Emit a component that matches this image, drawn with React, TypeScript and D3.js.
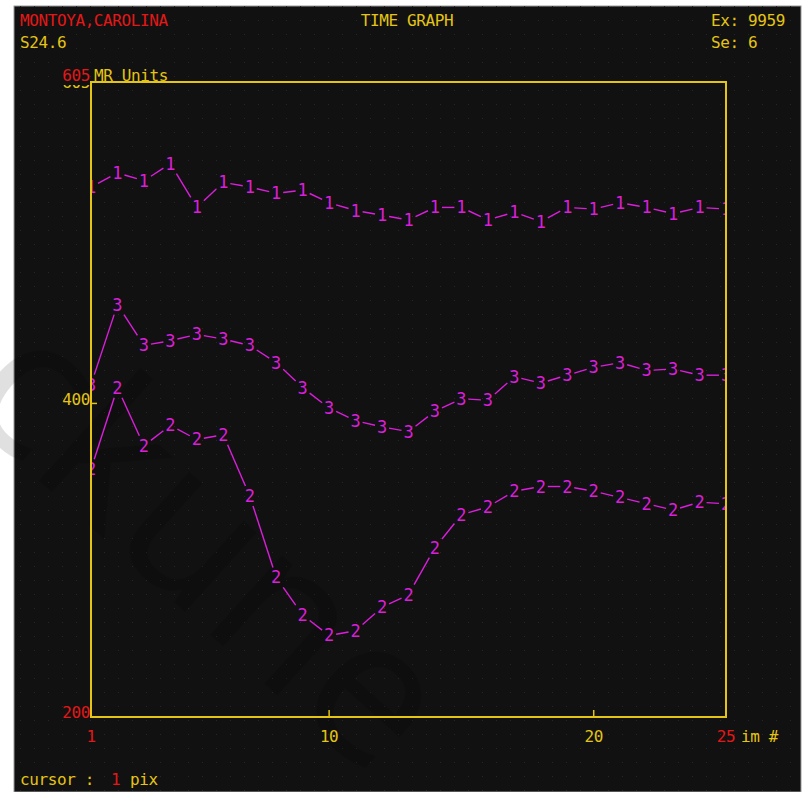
import * as d3 from 'd3';

const imageNumbers = [1, 2, 3, 4, 5, 6, 7, 8, 9, 10, 11, 12, 13, 14, 15, 16, 17, 18, 19, 20, 21, 22, 23, 24, 25];
const series1 = [538, 547, 542, 553, 525, 541, 538, 534, 536, 528, 523, 520, 517, 525, 525, 517, 522, 516, 525, 524, 528, 525, 521, 525, 524];
const series2 = [358, 410, 373, 386, 377, 380, 341, 289, 265, 252, 255, 270, 278, 308, 329, 334, 344, 347, 347, 344, 340, 336, 332, 337, 336];
const series3 = [412, 463, 437, 440, 444, 441, 437, 426, 410, 397, 389, 385, 382, 395, 403, 402, 417, 413, 418, 423, 426, 421, 422, 418, 418];
const seriesNames = ['1', '2', '3'];
const xTicks = [1, 10, 20, 25];
const yTicks = [200, 400, 605];

const W = 805;
const H = 792;
const BG = '#111111';
const YEL = '#e4c414';
const RED = '#e41818';
const MAG = '#dc1edc';
const FONT = '"DejaVu Sans Mono", "Liberation Mono", monospace';

const plot = { left: 91, right: 726, top: 82, bottom: 717 };

const x = d3.scaleLinear().domain([1, 25]).range([plot.left, plot.right]);
const y = d3.scaleLinear().domain([200, 605]).range([plot.bottom, plot.top]);

// shorten a segment so it stops short of the digit drawn at each end
function gapped(p: [number, number], q: [number, number]) {
  const dx = q[0] - p[0];
  const dy = q[1] - p[1];
  const len = Math.hypot(dx, dy);
  const ux = dx / len;
  const uy = dy / len;
  const hw = 7;
  const hh = 10;
  const g = Math.min(Math.abs(ux) > 1e-6 ? hw / Math.abs(ux) : 1e9, Math.abs(uy) > 1e-6 ? hh / Math.abs(uy) : 1e9);
  if (2 * g >= len) return null;
  return [p[0] + ux * g, p[1] + uy * g, q[0] - ux * g, q[1] - uy * g];
}

const Txt = ({ x, y, fill, anchor = 'start', size = 16, children }: any) => (
  <text x={x} y={y} fill={fill} textAnchor={anchor} fontFamily={FONT} fontSize={size} letterSpacing={-0.4}>
    {children}
  </text>
);

export default function App() {
  const allSeries = [series1, series2, series3];

  return (
    <svg width={W} height={H} style={{ position: 'absolute', left: 0, top: 0, display: 'block' }}>
      <defs>
        <pattern id="dots" width="14" height="14" patternUnits="userSpaceOnUse">
          <rect x="6" y="6" width="1" height="1" fill="#262626" />
        </pattern>
        <clipPath id="plotClip">
          <rect x={plot.left} y={plot.top} width={plot.right - plot.left} height={plot.bottom - plot.top} />
        </clipPath>
      </defs>

      <rect width={W} height={H} fill="#ffffff" />
      <rect x={14} y={6} width={787} height={786} fill={BG} stroke="#9a9a9a" strokeWidth={1} />
      <rect x={14} y={6} width={787} height={786} fill="url(#dots)" />

      {/* faint watermark */}
      <g transform="translate(-45,405) rotate(42)" fill="#000" fillOpacity={0.12}>
        <text x={0} y={0} fontFamily="Noto Sans, sans-serif" fontSize={200}>
          ckune
        </text>
      </g>

      <g clipPath="url(#plotClip)">
        {allSeries.map((vals, si) => {
          const pts = vals.map((v, i) => [x(imageNumbers[i]), y(v)] as [number, number]);
          return (
            <g key={si}>
              {pts.slice(1).map((q, i) => {
                const s = gapped(pts[i], q);
                if (!s) return null;
                return <line key={i} x1={s[0]} y1={s[1]} x2={s[2]} y2={s[3]} stroke={MAG} strokeWidth={1.4} />;
              })}
              {pts.map((p, i) => (
                <text
                  key={'t' + i}
                  x={p[0]}
                  y={p[1] + 6}
                  fill={MAG}
                  textAnchor="middle"
                  fontFamily={FONT}
                  fontSize={17}
                >
                  {seriesNames[si]}
                </text>
              ))}
            </g>
          );
        })}
      </g>

      {/* frame */}
      <rect
        x={plot.left}
        y={plot.top}
        width={plot.right - plot.left}
        height={plot.bottom - plot.top}
        fill="none"
        stroke={YEL}
        strokeWidth={2}
      />
      {xTicks.slice(1, 3).map((t) => (
        <line key={t} x1={x(t)} x2={x(t)} y1={plot.bottom} y2={plot.bottom - 7} stroke={YEL} strokeWidth={1.5} />
      ))}
      <line x1={plot.left} x2={plot.left + 6} y1={y(yTicks[1])} y2={y(yTicks[1])} stroke={YEL} strokeWidth={1.5} />

      {/* header */}
      <Txt x={20} y={26} fill={RED}>MONTOYA,CAROLINA</Txt>
      <Txt x={20} y={48} fill={YEL}>S24.6</Txt>
      <Txt x={407} y={26} fill={YEL} anchor="middle">TIME GRAPH</Txt>
      <Txt x={711} y={26} fill={YEL}>Ex: 9959</Txt>
      <Txt x={711} y={48} fill={YEL}>Se: 6</Txt>

      {/* y axis labels: yellow 605 tick label mostly hidden under the red one */}
      <Txt x={90} y={y(yTicks[2]) + 6} fill={YEL} anchor="end">{String(yTicks[2])}</Txt>
      <rect x={58} y={66} width={32} height={19} fill={BG} />
      <Txt x={90} y={y(yTicks[2]) - 1} fill={RED} anchor="end">{String(yTicks[2])}</Txt>
      <Txt x={94} y={y(yTicks[2]) - 1} fill={YEL}>MR Units</Txt>
      <Txt x={90} y={y(yTicks[1]) + 2} fill={YEL} anchor="end">{String(yTicks[1])}</Txt>
      <Txt x={90} y={y(yTicks[0]) + 1} fill={RED} anchor="end">{String(yTicks[0])}</Txt>

      {/* x axis labels */}
      <Txt x={x(xTicks[0])} y={742} fill={RED} anchor="middle">{String(xTicks[0])}</Txt>
      <Txt x={x(xTicks[1])} y={742} fill={YEL} anchor="middle">{String(xTicks[1])}</Txt>
      <Txt x={x(xTicks[2])} y={742} fill={YEL} anchor="middle">{String(xTicks[2])}</Txt>
      <Txt x={x(xTicks[3])} y={742} fill={RED} anchor="middle">{String(xTicks[3])}</Txt>
      <Txt x={741} y={742} fill={YEL}>im #</Txt>

      {/* footer */}
      <Txt x={20} y={785} fill={YEL}>cursor :</Txt>
      <Txt x={111} y={785} fill={RED}>1</Txt>
      <Txt x={130} y={785} fill={YEL}>pix</Txt>
    </svg>
  );
}
